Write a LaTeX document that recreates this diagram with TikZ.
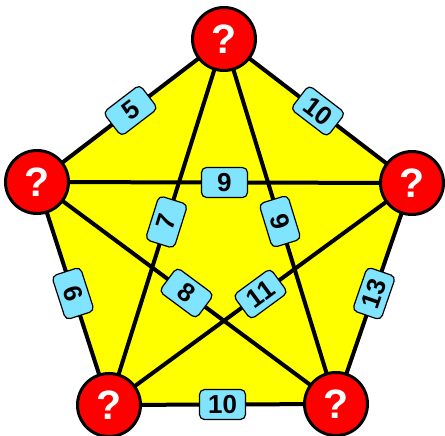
\documentclass[tikz,border=0pt]{standalone}
\usepackage{fontspec}
\setmainfont{Liberation Sans}
\definecolor{qred}{RGB}{255,0,0}
\definecolor{labblue}{RGB}{128,228,255}
\definecolor{penta}{RGB}{255,255,0}
\begin{document}
\begin{tikzpicture}[x=1pt,y=-1pt,
  vert/.style={circle, draw=black, line width=3pt, fill=qred, minimum size=63pt, inner sep=0pt, text=white, font=\fontsize{41}{41}\selectfont\bfseries},
  edgelab/.style={draw=black, line width=1.2pt, fill=labblue, rounded corners=5pt, minimum width=46pt, minimum height=30pt, inner sep=0pt, font=\fontsize{26}{26}\selectfont\bfseries, text=black, sloped, midway},
  conn/.style={line width=4pt, draw=black}]
\useasboundingbox (0,0) rectangle (445,436);
\coordinate (t) at (224,39);
\coordinate (l) at (37,182);
\coordinate (r) at (412,183);
\coordinate (bl) at (109,405);
\coordinate (br) at (336,404);
\fill[penta] (t) -- (r) -- (br) -- (bl) -- (l) -- cycle;
\draw[conn] (l) -- node[edgelab]{5} (t);
\draw[conn] (t) -- node[edgelab]{10} (r);
\draw[conn] (l) -- node[edgelab]{9} (r);
\draw[conn] (t) -- node[edgelab]{7} (bl);
\draw[conn] (t) -- node[edgelab]{9} (br);
\draw[conn] (l) -- node[edgelab]{6} (bl);
\draw[conn] (l) -- node[edgelab]{8} (br);
\draw[conn] (r) -- node[edgelab]{11} (bl);
\draw[conn] (r) -- node[edgelab]{13} (br);
\draw[conn] (bl) -- node[edgelab]{10} (br);
\node[vert] (T) at (t) {?};
\node[vert] (L) at (l) {?};
\node[vert] (R) at (r) {?};
\node[vert] (BL) at (bl) {?};
\node[vert] (BR) at (br) {?};
\end{tikzpicture}
\end{document}
